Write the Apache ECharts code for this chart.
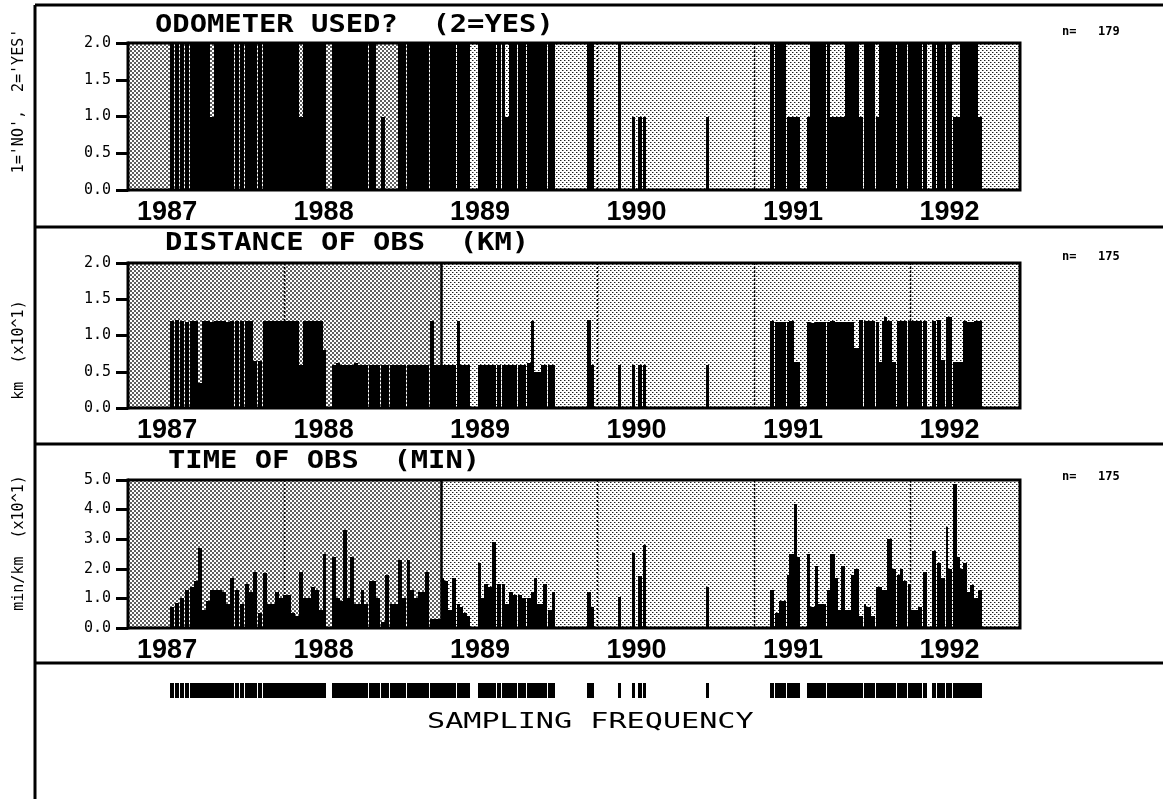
<!DOCTYPE html>
<html><head><meta charset="utf-8">
<script src="https://cdn.jsdelivr.net/npm/echarts@6/dist/echarts.min.js"></script>
<style>html,body{margin:0;padding:0;background:#fff;}#chart{width:1163px;height:799px;}</style>
</head><body><div id="chart"></div>
<script>
// ---------------- DATA ----------------
const obsDates = [
1987.018,1987.050,1987.082,1987.114,1987.146,1987.171,1987.197,1987.223,1987.248,1987.274,
1987.299,1987.325,1987.350,1987.376,1987.401,1987.433,1987.465,1987.497,1987.523,1987.548,
1987.580,1987.612,1987.638,1987.663,1987.689,1987.714,1987.740,1987.765,1987.791,1987.816,
1987.842,1987.868,1987.893,1987.919,1987.944,1987.970,1987.995,1988.053,1988.078,1988.104,
1988.123,1988.148,1988.168,1988.193,1988.219,1988.238,1988.257,1988.289,1988.308,1988.334,
1988.366,1988.391,1988.423,1988.449,1988.474,1988.500,1988.532,1988.551,1988.576,1988.602,
1988.627,1988.647,1988.679,1988.704,1988.723,1988.749,1988.768,1988.793,1988.819,1988.851,
1988.870,1988.889,1988.915,1988.985,1989.004,1989.023,1989.049,1989.074,1989.106,1989.138,
1989.157,1989.183,1989.208,1989.240,1989.266,1989.298,1989.324,1989.343,1989.362,1989.387,
1989.400,1989.432,1989.458,
1989.681,1989.707,1989.879,1989.968,1990.007,1990.039,1990.441,
1990.850,1990.882,1990.907,1990.926,1990.958,1990.977,1991.003,1991.022,1991.086,1991.111,
1991.137,1991.156,1991.182,1991.214,1991.239,1991.265,1991.284,1991.303,1991.329,1991.348,
1991.367,1991.392,1991.418,1991.450,1991.469,1991.495,1991.527,1991.546,1991.565,1991.584,
1991.603,1991.629,1991.661,1991.680,1991.705,1991.737,1991.756,1991.776,1991.801,1991.833,
1991.890,1991.922,1991.948,1991.980,1991.993,1992.025,1992.050,1992.069,1992.088,1992.114,
1992.133,1992.159,1992.184
];
// 1 = NO, 2 = YES, null = not recorded
const odometer = [
2,2,2,2,2,2,2,2,2,1,
2,2,2,2,2,2,2,2,2,2,
2,2,2,2,2,2,2,2,2,2,
1,2,2,2,2,2,2,2,2,2,
2,2,2,2,2,2,2,2,2,null,
1,null,null,null,2,2,2,2,2,2,
2,2,2,2,2,2,2,2,2,2,
2,2,2,2,2,2,2,2,2,2,
1,2,2,2,2,2,2,2,2,2,
2,2,2,
2,2,2,1,1,1,1,
2,2,2,2,1,1,1,1,1,2,
2,2,2,2,1,1,1,1,2,2,
2,2,1,2,2,2,1,2,2,2,
2,2,2,2,2,2,2,2,2,2,
2,2,2,2,2,1,1,2,2,2,
2,2,1
];
// km (x10^1)
const distance = [
1.2,1.21,1.2,1.19,1.2,1.2,0.35,1.2,1.2,1.19,
1.2,1.2,1.2,1.19,1.2,1.2,1.2,1.2,1.2,0.65,
0.65,1.2,1.2,1.2,1.2,1.2,1.2,1.2,1.2,1.2,
0.6,1.2,1.2,1.2,1.2,1.2,0.8,0.6,0.62,0.6,
0.6,0.6,0.6,0.62,0.6,0.6,0.6,0.6,0.6,0.6,
0.6,0.6,0.6,0.6,0.6,0.6,0.6,0.6,0.6,0.6,
0.6,0.6,1.2,0.6,0.6,0.6,0.6,0.6,0.6,1.2,
0.6,0.6,0.6,0.6,0.6,0.6,0.6,0.6,0.6,0.6,
0.6,0.6,0.6,0.6,0.6,0.62,1.2,0.5,0.5,0.6,
0.6,0.6,0.6,
1.22,0.6,0.6,0.6,0.6,0.6,0.6,
1.2,1.19,1.18,1.19,1.18,1.2,0.64,0.64,1.18,1.17,
1.18,1.18,1.19,1.18,1.2,1.18,1.18,1.18,1.18,1.18,
1.18,0.83,1.22,1.2,1.2,1.2,1.18,0.64,1.2,1.26,
1.2,0.64,1.2,1.2,1.2,1.2,1.2,1.2,1.2,1.2,
1.2,1.22,0.66,1.25,1.25,0.64,0.64,0.64,1.2,1.19,
1.19,1.2,1.2
];
// min/km (x10^1)
const timePerKm = [
0.7,0.85,1.0,1.3,1.4,1.6,2.7,0.6,0.9,1.3,
1.3,1.3,1.2,0.8,1.7,1.3,0.8,1.5,1.2,1.9,
0.5,1.85,0.8,0.8,1.2,1.0,1.1,1.1,0.5,0.4,
1.9,1.0,1.0,1.4,1.3,0.6,2.5,2.4,1.0,0.9,
3.3,1.0,2.4,0.8,0.8,1.3,0.8,1.6,1.6,1.0,
0.2,1.8,0.8,0.8,2.3,1.0,2.3,1.3,1.0,1.2,
1.2,1.9,0.3,0.3,0.3,1.7,1.6,0.6,1.7,0.8,
0.7,0.5,0.4,2.2,1.0,1.5,1.4,2.9,1.5,1.5,
0.8,1.2,1.1,1.1,1.0,1.0,1.2,1.7,0.8,0.8,
1.5,0.6,1.2,
1.2,0.7,1.06,2.55,1.75,2.8,1.4,
1.3,0.5,0.9,0.9,1.8,2.5,4.2,2.4,2.5,0.7,
2.1,0.8,0.8,1.3,2.5,1.7,0.6,2.1,0.6,0.6,
1.8,2.0,0.4,0.8,0.7,0.4,1.4,1.4,1.3,1.3,
3.0,2.0,1.8,2.0,1.6,1.5,0.6,0.6,0.7,1.9,
2.6,2.2,1.7,3.4,2.0,4.85,2.4,2.0,2.2,1.2,
1.45,1.0,1.3
];
const yearLabels = [1987, 1988, 1989, 1990, 1991, 1992];
const guideDates = [1987.75, 1988.75, 1989.75, 1990.75, 1991.75];
const shadeBreak = 1988.75;
const xRange = [1986.75, 1992.45];
const panelTitles = ['ODOMETER USED?  (2=YES)', 'DISTANCE OF OBS  (KM)', 'TIME OF OBS  (MIN)'];
const panelUnits = ["1='NO',  2='YES'", 'km  (x10^1)', 'min/km  (x10^1)'];
const panelCounts = [179, 175, 175];
const panelMax = [2, 2, 5];
const panelStep = [0.5, 0.5, 1];
const panelValues = [odometer, distance, timePerKm];
const stripTitle = 'SAMPLING FREQUENCY';

// ---------------- RENDER ----------------
const barCap = 0.034;      // consecutive observations closer than this are joined
const isolatedSpan = 0.02; // span of an isolated observation's bar (years)
const seamGap = 0.029;     // joined bars wider than this keep a 1px seam
function makePattern(dense) {
  const c = document.createElement('canvas');
  c.width = 4; c.height = 4;
  const g = c.getContext('2d');
  g.fillStyle = '#fff'; g.fillRect(0, 0, 4, 4);
  if (dense) { g.fillStyle = '#606060'; g.fillRect(0, 0, 2, 2); g.fillRect(2, 2, 2, 2); }
  else { g.fillStyle = '#222'; g.fillRect(0, 0, 1, 1); g.fillRect(2, 2, 1, 1); g.fillStyle = '#999'; g.fillRect(1, 0, 1, 1); g.fillRect(3, 2, 1, 1); }
  return { image: c, repeat: 'repeat' };
}
const densePat = makePattern(true), lightPat = makePattern(false);
const shadeSegments = [[xRange[0], shadeBreak, 0], [shadeBreak, xRange[1], 1]];

function barData(values) {
  const out = [];
  obsDates.forEach((t, i) => {
    const v = values[i];
    if (v == null) return;
    const gap = i < obsDates.length - 1 ? obsDates[i + 1] - t : Infinity;
    const joined = gap <= barCap;
    out.push([t, v, joined ? gap : isolatedSpan, joined && gap > seamGap ? 1 : 0]);
  });
  return out;
}
function barSeries(gi, values) {
  return {
    type: 'custom', xAxisIndex: gi, yAxisIndex: gi, z: 3, silent: true,
    data: barData(values),
    renderItem: (p, api) => {
      const t = api.value(0), v = api.value(1), w = api.value(2), seam = api.value(3);
      const a = api.coord([t, v]), b = api.coord([t + w, 0]);
      const x0 = Math.round(a[0]);
      const x1 = Math.max(Math.round(b[0]) - (seam ? 1 : 0), x0 + 1);
      const y0 = Math.round(a[1]), y1 = Math.round(b[1]);
      return { type: 'rect', shape: { x: x0, y: y0, width: x1 - x0, height: y1 - y0 }, style: { fill: '#000' } };
    }
  };
}
function bgSeries(gi, ymax) {
  return {
    type: 'custom', xAxisIndex: gi, yAxisIndex: gi, z: 1, silent: true,
    data: shadeSegments,
    renderItem: (p, api) => {
      const a = api.coord([api.value(0), ymax]), b = api.coord([api.value(1), 0]);
      const x0 = Math.round(a[0]), x1 = Math.round(b[0]);
      return { type: 'rect', shape: { x: x0, y: a[1], width: x1 - x0, height: b[1] - a[1] }, style: { fill: api.value(2) === 0 ? densePat : lightPat } };
    }
  };
}
function guideSeries(gi, ymax) {
  return {
    type: 'custom', xAxisIndex: gi, yAxisIndex: gi, z: 2, silent: true,
    data: guideDates.map(d => [d]),
    renderItem: (p, api) => {
      const t = api.value(0);
      const a = api.coord([t, ymax]), b = api.coord([t, 0]);
      const solid = Math.abs(t - shadeBreak) < 1e-6;
      const x = Math.round(a[0]) + 0.5;
      return { type: 'line', shape: { x1: x, y1: a[1], x2: x, y2: b[1] }, style: { stroke: '#000', lineWidth: solid ? 2.5 : 1.5, lineDash: solid ? null : [2, 2] } };
    }
  };
}

const gridTops = [43, 263, 480], gridHeights = [147, 145, 148];
const grids = [], xAxes = [], yAxes = [], series = [];
for (let i = 0; i < 3; i++) {
  grids.push({ left: 128, top: gridTops[i], width: 892, height: gridHeights[i], show: true, borderColor: '#000', borderWidth: 3, z: 4 });
  xAxes.push({
    gridIndex: i, type: 'value', min: xRange[0], max: xRange[1],
    axisLine: { show: false }, axisTick: { show: false }, splitLine: { show: false },
    axisLabel: { customValues: yearLabels, formatter: v => String(Math.round(v)), fontFamily: 'Liberation Sans', fontWeight: 'bold', fontSize: 27, color: '#000', margin: 9 }
  });
  yAxes.push({
    gridIndex: i, type: 'value', min: 0, max: panelMax[i], interval: panelStep[i],
    axisLine: { show: true, lineStyle: { color: '#000', width: 3 } },
    axisTick: { show: true, length: 12, lineStyle: { color: '#000', width: 3 } },
    splitLine: { show: false },
    axisLabel: { formatter: v => v.toFixed(1), fontFamily: 'DejaVu Sans Mono', fontSize: 15, color: '#000', margin: 17 }
  });
  series.push(bgSeries(i, panelMax[i]), guideSeries(i, panelMax[i]), barSeries(i, panelValues[i]));
}
grids.push({ left: 128, top: 683, width: 892, height: 15, show: false });
xAxes.push({ gridIndex: 3, type: 'value', min: xRange[0], max: xRange[1], show: false });
yAxes.push({ gridIndex: 3, type: 'value', min: 0, max: 1, show: false });
series.push(barSeries(3, obsDates.map(() => 1)));

const titleX = [155, 165, 168], titleY = [26, 244, 462], nY = [32, 257, 477], unitY = [101, 350, 543];
const graphic = [];
[[35, 5, 35, 799], [35, 5, 1163, 5], [35, 227, 1163, 227], [35, 444, 1163, 444], [35, 663, 1163, 663]].forEach(l => {
  graphic.push({ type: 'line', silent: true, shape: { x1: l[0], y1: l[1], x2: l[2], y2: l[3] }, style: { stroke: '#000', lineWidth: 3 } });
});
for (let i = 0; i < 3; i++) {
  graphic.push({ type: 'text', silent: true, x: titleX[i], y: titleY[i], scaleX: 1.2,
    style: { text: panelTitles[i], font: 'bold 24px "DejaVu Sans Mono"', fill: '#000', textAlign: 'left', textVerticalAlign: 'middle' } });
  graphic.push({ type: 'text', silent: true, x: 1062, y: nY[i],
    style: { text: 'n=   ' + panelCounts[i], font: 'bold 12px "DejaVu Sans Mono"', fill: '#000', textAlign: 'left', textVerticalAlign: 'middle' } });
  graphic.push({ type: 'text', silent: true, x: 19, y: unitY[i], rotation: Math.PI / 2,
    style: { text: panelUnits[i], font: '15px "DejaVu Sans Mono"', fill: '#000', textAlign: 'center', textVerticalAlign: 'middle' } });
}
graphic.push({ type: 'text', silent: true, x: 427, y: 722, scaleX: 1.37,
  style: { text: stripTitle, font: '22px "DejaVu Sans Mono"', fill: '#000', textAlign: 'left', textVerticalAlign: 'middle' } });

const chart = echarts.init(document.getElementById('chart'), null, { renderer: 'canvas' });
chart.setOption({ animation: false, backgroundColor: '#fff', grid: grids, xAxis: xAxes, yAxis: yAxes, series, graphic });
</script></body></html>
